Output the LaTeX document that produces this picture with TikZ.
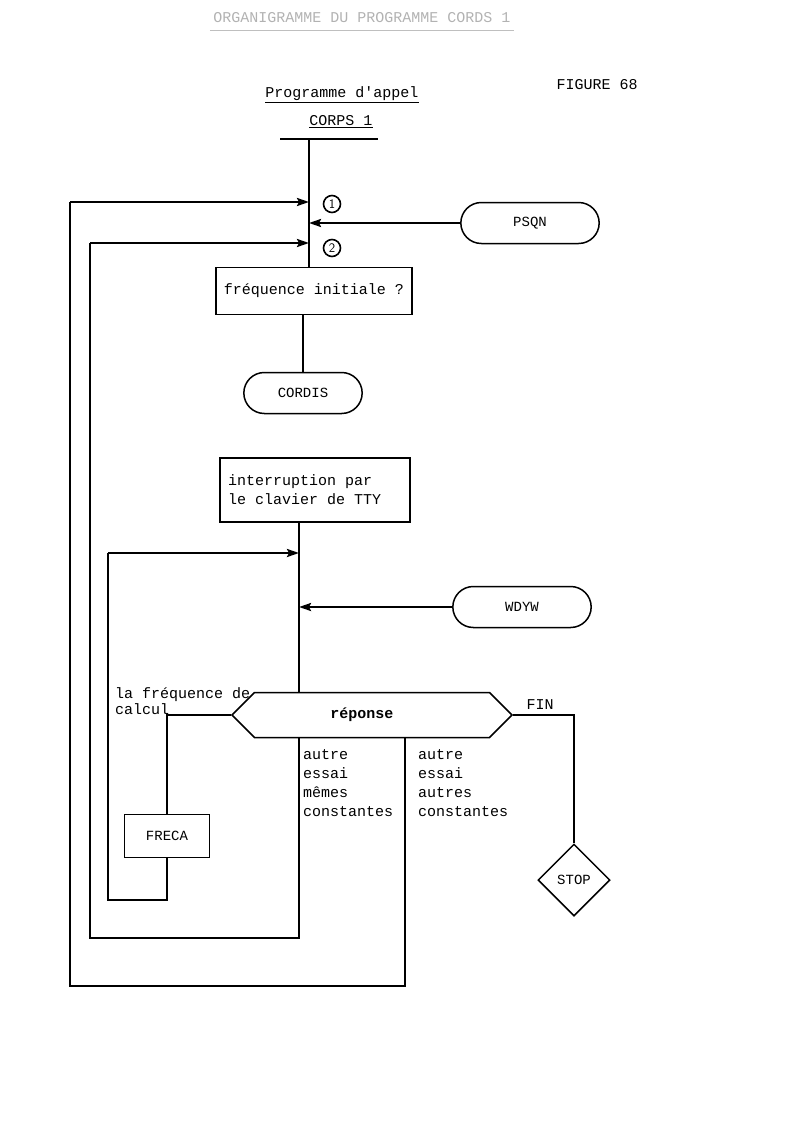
\documentclass[tikz,border=0pt]{standalone}
\usepackage{fontspec}
\setmonofont{Liberation Mono}
\usetikzlibrary{shapes.misc,shapes.symbols,shapes.geometric,arrows.meta}

\begin{document}
\begin{tikzpicture}[x=1pt,y=-1pt,
    font=\ttfamily\fontsize{15}{19}\selectfont,
    trait/.style={line width=2.3pt},
    fleche/.style={trait,-{Stealth[length=12pt,width=8pt,inset=2pt]}},
    boite/.style={draw,line width=1.5pt,inner sep=8pt},
    capsule/.style={draw,rounded rectangle,line width=1.5pt,minimum width=145pt,minimum height=41pt,font=\ttfamily\fontsize{14}{16}\selectfont},
    hexa/.style={draw,signal,signal to=west and east,line width=1.5pt,minimum width=280pt,minimum height=45pt},
    losange/.style={draw,diamond,line width=1.5pt,minimum width=72pt,minimum height=72pt,inner sep=0pt,font=\ttfamily\fontsize{14}{16}\selectfont},
    rond/.style={draw,circle,line width=1.6pt,inner sep=0pt,minimum size=17pt,font=\sffamily\fontsize{13}{13}\selectfont},
    texte/.style={anchor=north west,align=left,inner sep=0pt}]
    \useasboundingbox (0,0) rectangle (792,1127);

    \node[text=black!30] (titre) at (362,18) {ORGANIGRAMME DU PROGRAMME CORDS 1};
    \draw[black!25,line width=1.2pt] ([yshift=-4pt]titre.south west) -- ([yshift=-4pt]titre.south east);
    \node (figure) at (597,85) {FIGURE 68};
    \node (appel) at (342,95) {\underline{Programme d'appel}};
    \node (corps) at (341,122) {\underline{CORPS 1}};

    \coordinate (hg) at (280,139);
    \coordinate (hd) at (378,139);
    \coordinate (haut) at (309,139);
    \draw[trait] (hg) -- (hd);

    \node[boite,minimum height=47pt] (finit) at (314,291) {fréquence initiale ?};
    \draw[trait] (haut) -- (finit.north -| haut);

    \coordinate (g1) at (70,202);
    \coordinate (g2) at (90,243);
    \coordinate (g3) at (108,553);
    \draw[fleche] (g1) -- (g1 -| haut);
    \draw[fleche] (g2) -- (g2 -| haut);
    \node[rond] (n1) at (332,204) {1};
    \node[rond] (n2) at (332,248) {2};

    \node[capsule] (psqn) at (530,223) {PSQN};
    \draw[fleche] (psqn.west) -- (psqn.west -| haut);

    \node[capsule,minimum width=125pt] (cordis) at (303,393) {CORDIS};
    \draw[trait] (finit.south -| cordis.north) -- (cordis.north);

    \node[boite,text width=174pt,align=flush left,minimum height=64pt] (inter) at (315,490) {interruption par\\le clavier de TTY};

    \coordinate (axe) at (299,600);
    \coordinate (axe2) at (405,800);
    \node[hexa] (rep) at (372,715) {\bfseries réponse\hspace*{20pt}};
    \draw[trait] (inter.south -| axe) -- (rep.north -| axe);

    \draw[fleche] (g3) -- (g3 -| axe);
    \node[capsule] (wdyw) at (522,607) {WDYW};
    \draw[fleche] (wdyw.west) -- (wdyw.west -| axe);

    \node[texte] (lafreq) at (115,687) {la fréquence de\\[-3pt]calcul};
    \node (fin) at (540,705) {FIN};

    \node[boite,minimum width=85pt,minimum height=43pt,font=\ttfamily\fontsize{14}{16}\selectfont] (freca) at (167,836) {FRECA};
    \draw[trait] (rep.west) -| (freca.north);
    \draw[trait] (freca.south) -- ++(0,42) -| (g3);

    \node[texte] (memes) at (303,749) {autre\\essai\\mêmes\\constantes};
    \node[texte] (autres) at (418,749) {autre\\essai\\autres\\constantes};
    \draw[trait] (rep.south -| axe) -- ++(0,200) -| (g2);
    \draw[trait] (rep.south -| axe2) -- ++(0,248) -| (g1);

    \node[losange] (stop) at (574,880) {STOP};
    \draw[trait] (rep.east) -| (stop.north);
\end{tikzpicture}
\end{document}
